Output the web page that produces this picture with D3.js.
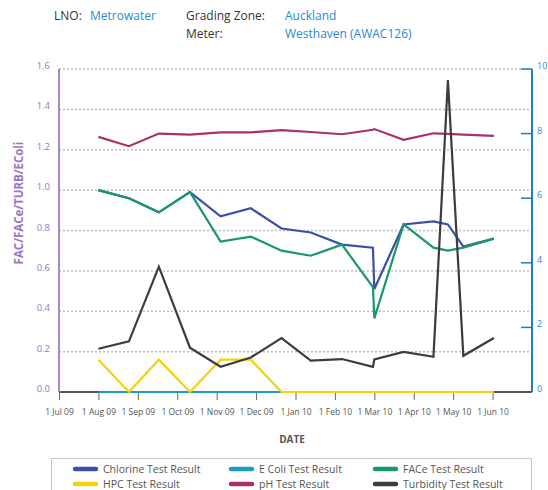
<!DOCTYPE html>
<html>
<head>
<meta charset="utf-8">
<script src="https://cdn.jsdelivr.net/npm/d3@7"></script>
<style>
  html, body { margin: 0; padding: 0; background: #fff; }
  svg { display: block; font-family: "Open Sans", "DejaVu Sans", sans-serif; }
</style>
</head>
<body>
<svg id="chart" width="548" height="490"></svg>
<script>
// Sample dates and test results
const sampleDates = ["2009-08-01","2009-08-25","2009-09-17","2009-10-11","2009-11-04","2009-11-27",
  "2009-12-21","2010-01-13","2010-02-06","2010-02-28","2010-03-01","2010-03-24","2010-04-16",
  "2010-04-27","2010-05-09","2010-06-02"];
const chlorine  = [1.00,0.96,0.89,0.99,0.87,0.91,0.81,0.79,0.73,0.715,0.51,0.83,0.845,0.83,0.72,0.76];
const eColi     = [0,0,0,0,0,0,0,0,0,0,0,0,0,0,0,0];
const face      = [1.00,0.96,0.89,0.99,0.745,0.77,0.70,0.675,0.73,0.52,0.365,0.83,0.715,0.70,0.715,0.76];
const hpc       = [0.16,0,0.16,0,0.16,0.16,0,0,0,0,0,0,0,0,0,0];
const ph        = [7.90,7.61,8.00,7.97,8.04,8.04,8.11,8.05,7.98,8.12,8.14,7.81,8.01,7.99,7.97,7.93];
const turbidity = [1.34,1.57,3.88,1.37,0.78,1.07,1.67,0.97,1.02,0.78,1.01,1.24,1.09,9.66,1.12,1.67];

const leftTicks  = [0.0,0.2,0.4,0.6,0.8,1.0,1.2,1.4,1.6];
const rightTicks = [0,2,4,6,8,10];
const monthStarts = ["2009-07-01","2009-08-01","2009-09-01","2009-10-01","2009-11-01","2009-12-01",
  "2010-01-01","2010-02-01","2010-03-01","2010-04-01","2010-05-01","2010-06-01","2010-07-01"];

const seriesNames  = ["Chlorine Test Result","E Coli Test Result","FACe Test Result",
                      "HPC Test Result","pH Test Result","Turbidity Test Result"];
const seriesColors = ["#3a52a3","#1f9bbd","#1b9672","#f7d10a","#a8306b","#3c3c3c"];

const parse = d3.timeParse("%Y-%m-%d");
const dates = sampleDates.map(parse);
const months = monthStarts.map(parse);

const svg = d3.select("#chart");
const plot = { left: 59, right: 532, top: 69, bottom: 392 };

// Each month gets an equal slot on the date axis
const step = (plot.right - plot.left) / (months.length - 1);
const x = d3.scaleTime().domain(months).range(months.map((d, i) => plot.left + i * step));
const yL = d3.scaleLinear().domain([0, 1.6]).range([plot.bottom, plot.top]);
const yR = d3.scaleLinear().domain([0, 10]).range([plot.bottom, plot.top]);

// Header
const header = svg.append("g").attr("font-size", 12);
header.append("text").attr("x", 54).attr("y", 20).attr("fill", "#333").text("LNO:");
header.append("text").attr("x", 90).attr("y", 20).attr("fill", "#2a8bd1").text("Metrowater");
header.append("text").attr("x", 186).attr("y", 20).attr("fill", "#333").text("Grading Zone:");
header.append("text").attr("x", 285).attr("y", 20).attr("fill", "#2a8bd1").text("Auckland");
header.append("text").attr("x", 186).attr("y", 38).attr("fill", "#333").text("Meter:");
header.append("text").attr("x", 285).attr("y", 38).attr("fill", "#2a8bd1").text("Westhaven (AWAC126)");

// Dotted gridlines at the left-axis ticks
svg.append("g").selectAll("line").data(leftTicks.filter(v => v > 0)).join("line")
  .attr("x1", plot.left).attr("x2", plot.right)
  .attr("y1", d => yL(d)).attr("y2", d => yL(d))
  .attr("stroke", "#bdbdbd").attr("stroke-width", 1.5).attr("stroke-dasharray", "2,2");

// Bottom date axis
const xAxis = d3.axisBottom(x).tickValues(months.slice(0, -1))
  .tickFormat(d => d3.timeFormat("%-d %b %y")(d)).tickSize(8).tickPadding(9);
const gx = svg.append("g").attr("transform", `translate(0,${plot.bottom})`).call(xAxis);
gx.select(".domain").remove();
gx.selectAll(".tick line").attr("stroke", "#666").attr("stroke-width", 1);
gx.selectAll(".tick text").attr("fill", "#555").attr("font-size", 8.5)
  .attr("font-family", "'Open Sans', sans-serif");
svg.append("line").attr("x1", plot.left).attr("x2", plot.right)
  .attr("y1", plot.bottom).attr("y2", plot.bottom).attr("stroke", "#555").attr("stroke-width", 2);

// Left axis
const gl = svg.append("g").attr("transform", `translate(${plot.left},0)`)
  .call(d3.axisLeft(yL).tickValues(leftTicks).tickFormat(d3.format(".1f")).tickSize(0).tickPadding(9));
gl.select(".domain").remove();
gl.selectAll(".tick text").attr("fill", "#9a76bf").attr("font-size", 9.5)
  .attr("font-family", "'Open Sans', sans-serif").attr("dy", "-0.05em");
svg.append("line").attr("x1", plot.left).attr("x2", plot.left)
  .attr("y1", plot.top).attr("y2", plot.bottom).attr("stroke", "#a885c8").attr("stroke-width", 2);
svg.append("text").attr("transform", "translate(23,203) rotate(-90)")
  .attr("text-anchor", "middle").attr("fill", "#9a76bf").attr("font-size", 11.5)
  .attr("font-weight", "bold").text("FAC/FACe/TURB/EColi");

// Right axis
const gr = svg.append("g").attr("transform", `translate(${plot.right},0)`)
  .call(d3.axisRight(yR).tickValues(rightTicks).tickSize(0).tickPadding(5));
gr.select(".domain").remove();
gr.selectAll(".tick text").attr("fill", "#2a8bd1").attr("font-size", 9)
  .attr("font-family", "'Open Sans', sans-serif").attr("dy", "-0.05em");
svg.append("g").selectAll("line").data(rightTicks.filter(v => v > 0)).join("line")
  .attr("x1", plot.right - 11).attr("x2", plot.right)
  .attr("y1", d => yR(d)).attr("y2", d => yR(d))
  .attr("stroke", "#1f7fc4").attr("stroke-width", 1.5);
svg.append("line").attr("x1", plot.right).attr("x2", plot.right)
  .attr("y1", plot.top).attr("y2", plot.bottom).attr("stroke", "#1f7fc4").attr("stroke-width", 2);

// Series lines
const series = [
  { values: chlorine,  scale: yL },
  { values: eColi,     scale: yL },
  { values: face,      scale: yL },
  { values: hpc,       scale: yL },
  { values: ph,        scale: yR },
  { values: turbidity, scale: yR }
];
series.forEach((s, i) => {
  const line = d3.line().x((d, j) => x(dates[j])).y(d => s.scale(d));
  svg.append("path").datum(s.values).attr("d", line)
    .attr("fill", "none").attr("stroke", seriesColors[i]).attr("stroke-width", 2.2)
    .attr("stroke-linejoin", "miter").attr("stroke-miterlimit", 4);
});

// Axis title
svg.append("text").attr("x", 292).attr("y", 443).attr("text-anchor", "middle")
  .attr("fill", "#555").attr("font-size", 10).attr("font-weight", "bold").text("DATE");

// Legend
svg.append("rect").attr("x", 51.5).attr("y", 458.5).attr("width", 480).attr("height", 40)
  .attr("fill", "#fff").attr("stroke", "#c4c4c4").attr("stroke-width", 1);
const colX = [73, 229, 373];
const rowY = [469, 484];
const legend = svg.append("g").selectAll("g").data(seriesNames).join("g")
  .attr("transform", (d, i) => `translate(${colX[i % 3]},${rowY[Math.floor(i / 3)]})`);
legend.append("line").attr("x1", 2).attr("x2", 23).attr("y1", 0).attr("y2", 0)
  .attr("stroke", (d, i) => seriesColors[i]).attr("stroke-width", 4.5).attr("stroke-linecap", "round");
legend.append("text").attr("x", 30).attr("y", 0).attr("dy", "0.35em")
  .attr("font-size", 10.5).attr("fill", "#555").text(d => d);
</script>
</body>
</html>
